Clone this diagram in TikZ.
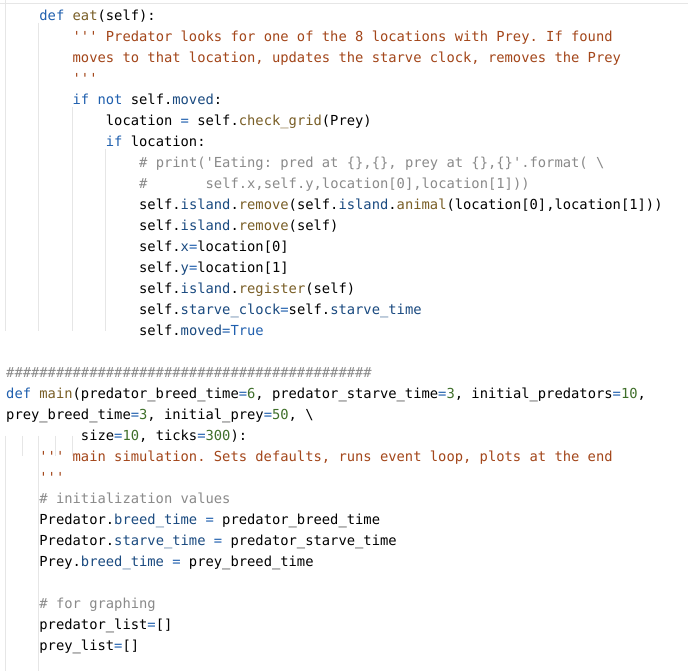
\documentclass[tikz,border=0pt]{standalone}
\usepackage{fontspec}
\setmonofont{DejaVu Sans Mono}
\definecolor{kw}{HTML}{1F5FAE}
\definecolor{fn}{HTML}{795E26}
\definecolor{st}{HTML}{A3461A}
\definecolor{nm}{HTML}{3F6F2A}
\definecolor{at}{HTML}{1A4A80}
\definecolor{cm}{HTML}{8A8A8A}
\definecolor{guide}{HTML}{E6E6E6}
\newcommand\kw[1]{\textcolor{kw}{#1}}
\newcommand\fn[1]{\textcolor{fn}{#1}}
\newcommand\st[1]{\textcolor{st}{#1}}
\newcommand\nm[1]{\textcolor{nm}{#1}}
\newcommand\at[1]{\textcolor{at}{#1}}
\newcommand\cm[1]{\textcolor{cm}{#1}}
\newcommand\codeline[4]{\node[codetext] (#1) at ({6+#3*8.31},{671-(21+21*#2)}) {#4};}
\begin{document}
\begin{tikzpicture}[x=1pt,y=1pt,
  codetext/.style={anchor=base west,inner sep=0pt,font=\fontsize{13.8}{16}\selectfont\ttfamily,text=black},
  guideline/.style={draw=guide,line width=1pt}]
\useasboundingbox (0,0) rectangle (688,671);
\fill[white] (0,0) rectangle (688,671);
\draw[guide] (0,668) -- (688,668);
% indent guides
\draw[guideline] (5,671) -- (5,340);
\draw[guideline] (38,648) -- (38,340);
\draw[guideline] (72,564) -- (72,340);
\draw[guideline] (105,522) -- (105,340);
\draw[guideline] (5,235) -- (5,0);
\draw[guideline] (22,235) -- (22,215);
\draw[guideline] (38,235) -- (38,0);
\draw[guideline] (55,235) -- (55,215);
\draw[guideline] (72,235) -- (72,215);
\codeline{l0}{0}{4}{\kw{def} \fn{eat}(self):}
\codeline{l1}{1}{8}{\st{''' Predator looks for one of the 8 locations with Prey. If found}}
\codeline{l2}{2}{8}{\st{moves to that location, updates the starve clock, removes the Prey}}
\codeline{l3}{3}{8}{\st{'''}}
\codeline{l4}{4}{8}{\kw{if} \kw{not} self.\at{moved}:}
\codeline{l5}{5}{12}{location \kw{=} self.\fn{check\_grid}(Prey)}
\codeline{l6}{6}{12}{\kw{if} location:}
\codeline{l7}{7}{16}{\cm{\# print('Eating: pred at \{\},\{\}, prey at \{\},\{\}'.format( \textbackslash}}
\codeline{l8a}{8}{16}{\cm{\#}}
\codeline{l8b}{8}{24}{\cm{self.x,self.y,location[0],location[1]))}}
\codeline{l9}{9}{16}{self.\at{island}.\fn{remove}(self.\at{island}.\fn{animal}(location[0],location[1]))}
\codeline{l10}{10}{16}{self.\at{island}.\fn{remove}(self)}
\codeline{l11}{11}{16}{self.\at{x}\kw{=}location[0]}
\codeline{l12}{12}{16}{self.\at{y}\kw{=}location[1]}
\codeline{l13}{13}{16}{self.\at{island}.\fn{register}(self)}
\codeline{l14}{14}{16}{self.\at{starve\_clock}\kw{=}self.\at{starve\_time}}
\codeline{l15}{15}{16}{self.\at{moved}\kw{=}\kw{True}}
\codeline{l17}{17}{0}{\cm{\#\#\#\#\#\#\#\#\#\#\#\#\#\#\#\#\#\#\#\#\#\#\#\#\#\#\#\#\#\#\#\#\#\#\#\#\#\#\#\#\#\#\#\#}}
\codeline{l18}{18}{0}{\kw{def} \fn{main}(predator\_breed\_time\kw{=}\nm{6}, predator\_starve\_time\kw{=}\nm{3}, initial\_predators\kw{=}\nm{10},}
\codeline{l19}{19}{0}{prey\_breed\_time\kw{=}\nm{3}, initial\_prey\kw{=}\nm{50}, \textbackslash}
\codeline{l20}{20}{9}{size\kw{=}\nm{10}, ticks\kw{=}\nm{300}):}
\codeline{l21}{21}{4}{\st{''' main simulation. Sets defaults, runs event loop, plots at the end}}
\codeline{l22}{22}{4}{\st{'''}}
\codeline{l23}{23}{4}{\cm{\# initialization values}}
\codeline{l24}{24}{4}{Predator.\at{breed\_time} \kw{=} predator\_breed\_time}
\codeline{l25}{25}{4}{Predator.\at{starve\_time} \kw{=} predator\_starve\_time}
\codeline{l26}{26}{4}{Prey.\at{breed\_time} \kw{=} prey\_breed\_time}
\codeline{l28}{28}{4}{\cm{\# for graphing}}
\codeline{l29}{29}{4}{predator\_list\kw{=}[]}
\codeline{l30}{30}{4}{prey\_list\kw{=}[]}
\end{tikzpicture}
\end{document}
